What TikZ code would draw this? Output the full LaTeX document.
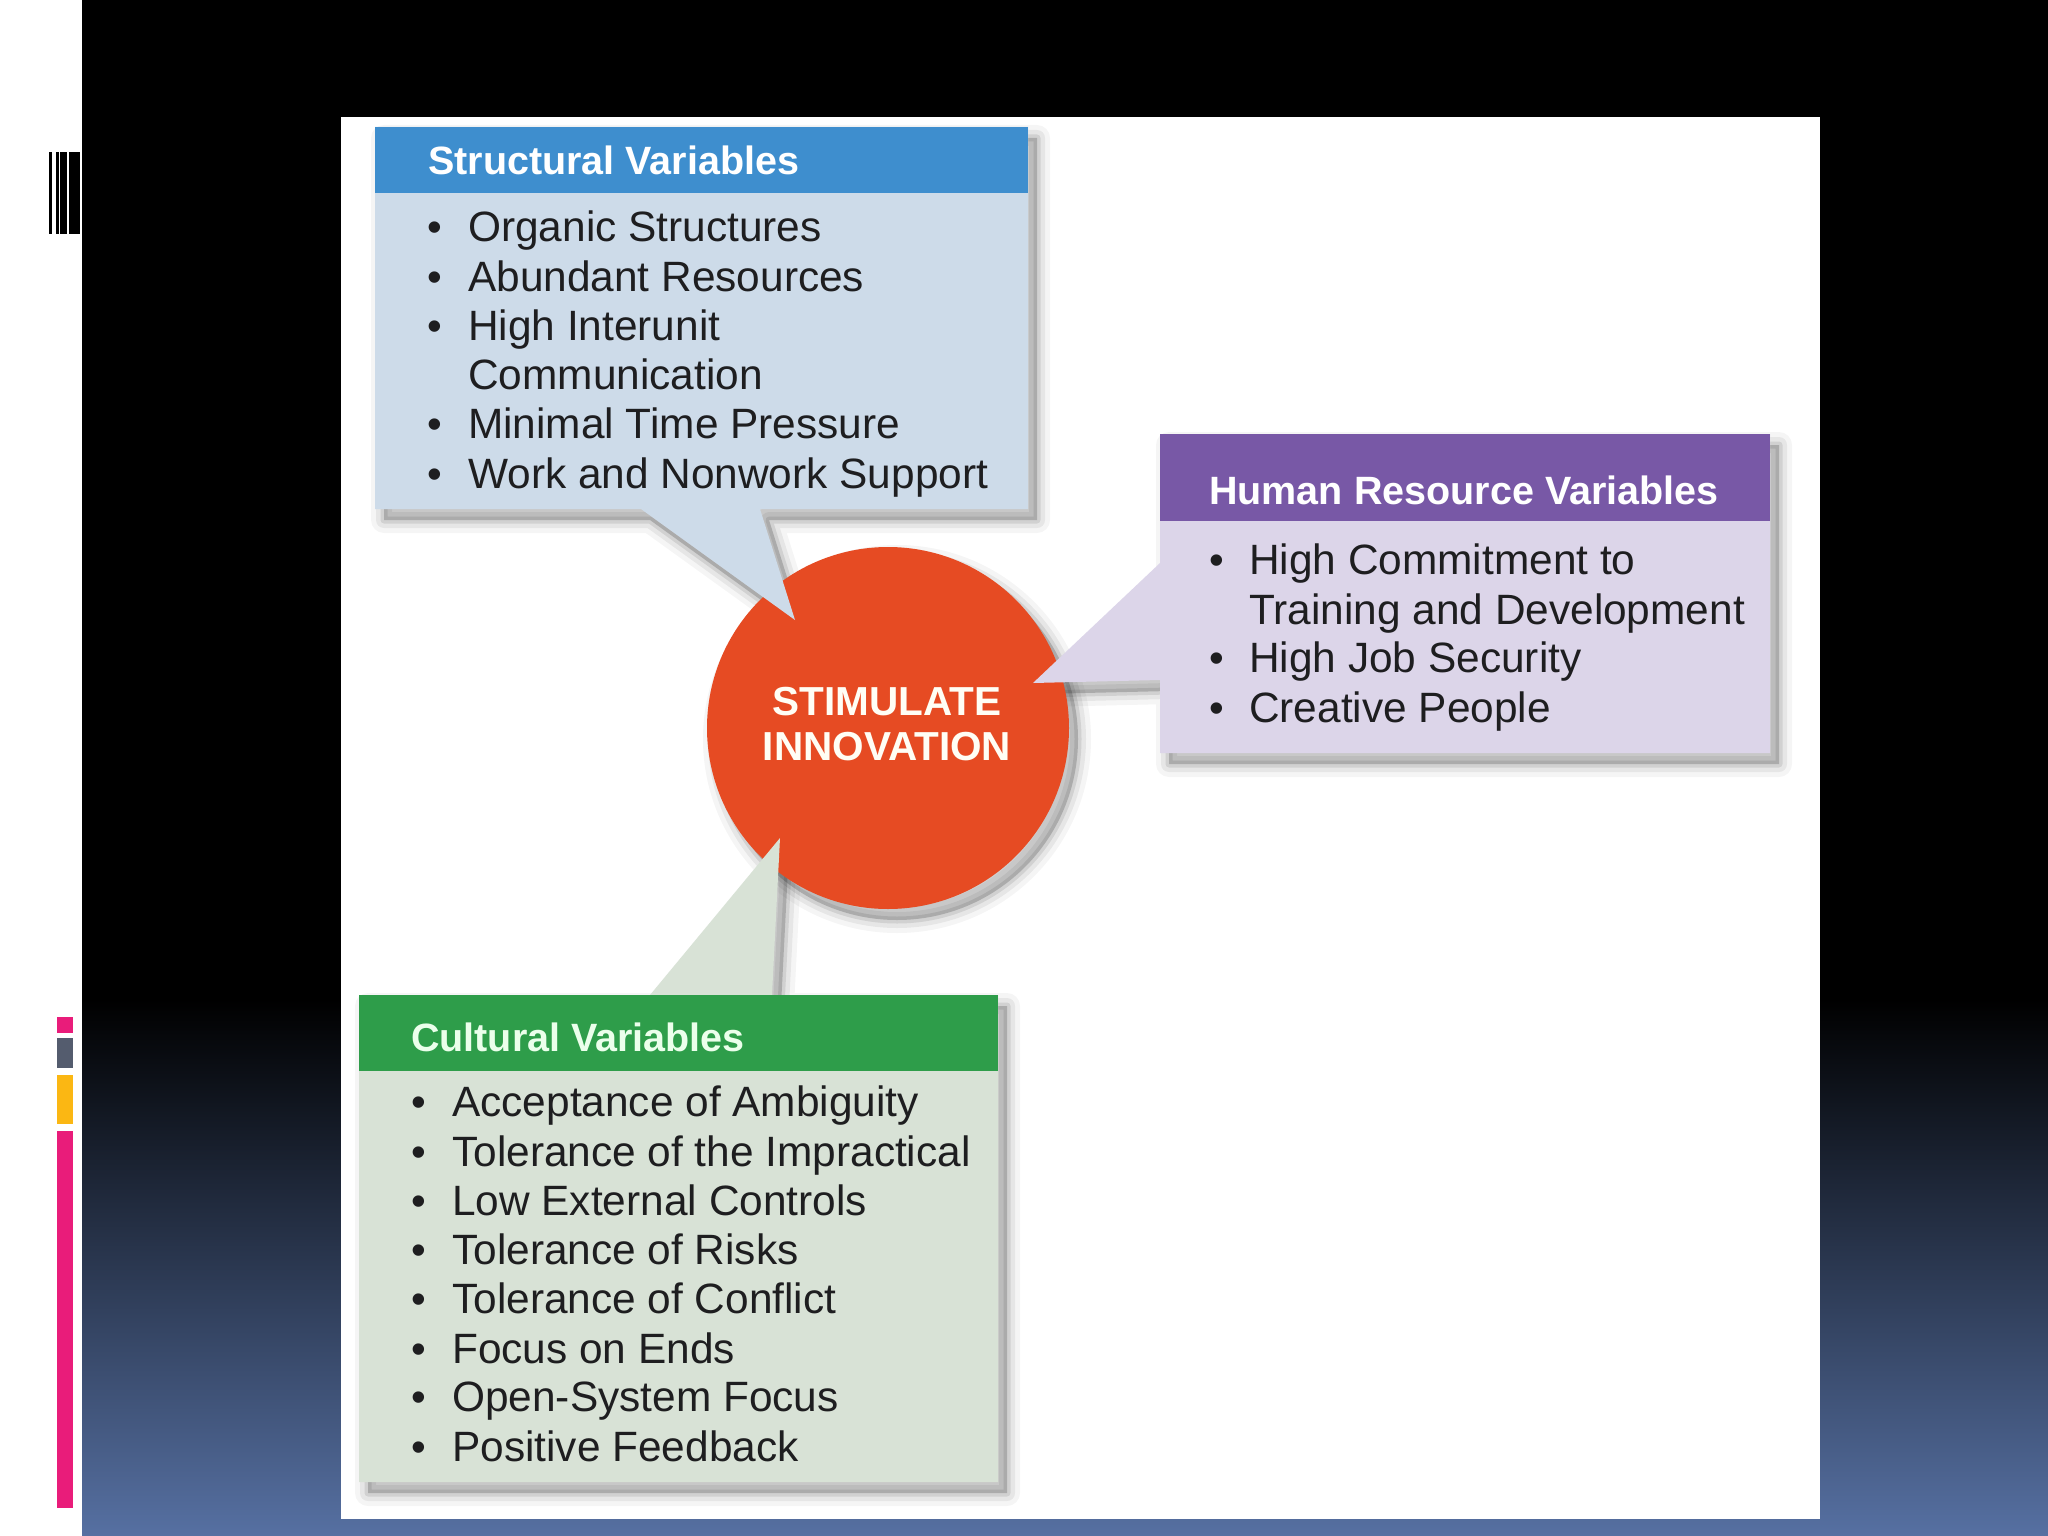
\documentclass[tikz,border=0pt]{standalone}
\usepackage{fontspec}
\setmainfont{Liberation Sans}
\usetikzlibrary{calc}
\definecolor{bgblue}{RGB}{86,112,162}
\definecolor{strhead}{RGB}{62,142,206}
\definecolor{strbody}{RGB}{205,219,233}
\definecolor{hrhead}{RGB}{120,88,166}
\definecolor{hrbody}{RGB}{220,213,233}
\definecolor{cuhead}{RGB}{46,157,74}
\definecolor{cubody}{RGB}{216,226,214}
\definecolor{innov}{RGB}{230,75,35}
\definecolor{txt}{RGB}{30,30,32}
\definecolor{barpink}{RGB}{233,28,122}
\definecolor{bargray}{RGB}{84,92,110}
\definecolor{baryellow}{RGB}{251,183,19}
\tikzset{
  bodytext/.style={anchor=base west, inner sep=0pt, font=\fontsize{42.4}{50}\selectfont, text=txt},
  bullettext/.style={anchor=base, inner sep=0pt, font=\fontsize{42}{50}\selectfont, text=txt},
  titletext/.style={anchor=base west, inner sep=0pt, font=\fontsize{39.5}{46}\selectfont\bfseries, text=white},
  centertext/.style={anchor=base, inner sep=0pt, font=\fontsize{40.5}{46}\selectfont\bfseries, text=white!96!yellow},
}
\newcommand\softshade[1]{%
  \draw[black, draw opacity=0.04, line width=26pt, line join=round, shift={(9,11)}] #1;
  \draw[black, draw opacity=0.06, line width=16pt, line join=round, shift={(9,11)}] #1;
  \draw[black, draw opacity=0.09, line width=7pt, line join=round, shift={(9,11)}] #1;
  \fill[black, fill opacity=0.18, shift={(9,11)}] #1;
}
\begin{document}
\begin{tikzpicture}[x=1pt,y=-1pt]
\useasboundingbox (0,0) rectangle (2048,1536);
% backgrounds
\fill[white] (0,0) rectangle (82,1536);
\fill[black] (82,0) rectangle (2048,1000);
\shade[top color=black, bottom color=bgblue] (82,999) rectangle (2048,1536);
% left strip decorations
\fill[black] (49.3,152) rectangle (52,234);
\fill[black] (55.7,152) rectangle (58.7,234);
\fill[black] (60,152) rectangle (66.7,234);
\fill[black] (69,152) rectangle (80,234);
\fill[barpink] (57,1017) rectangle (73,1033);
\fill[bargray] (57,1038) rectangle (73,1068);
\fill[baryellow] (57,1075) rectangle (73,1124);
\fill[barpink] (57,1131) rectangle (73,1508);
% white panel
\fill[white] (341,117) rectangle (1820,1519);

% shapes
\coordinate (c0) at (888,728);
\softshade{(888,728) circle[radius=181]}
\softshade{(375,127) -- (1028,127) -- (1028,509) -- (760,509) -- (795,620) -- (641,509) -- (375,509) -- cycle}
\softshade{(1160,434) -- (1770,434) -- (1770,753) -- (1160,753) -- (1160,680) -- (1033,683) -- (1160,563) -- cycle}
\softshade{(359,995) -- (650,995) -- (780,838) -- (772,995) -- (998,995) -- (998,1482) -- (359,1482) -- cycle}

\fill[innov] (c0) circle[radius=181];

% structural callout
\fill[strbody] (375,127) -- (1028,127) -- (1028,509) -- (760,509) -- (795,620) -- (641,509) -- (375,509) -- cycle;
\fill[strhead] (375,127) rectangle (1028,193);
% human resource callout
\fill[hrbody] (1160,434) -- (1770,434) -- (1770,753) -- (1160,753) -- (1160,680) -- (1033,683) -- (1160,563) -- cycle;
\fill[hrhead] (1160,434) rectangle (1770,521);
% cultural callout
\fill[cubody] (359,995) -- (650,995) -- (780,838) -- (772,995) -- (998,995) -- (998,1482) -- (359,1482) -- cycle;
\fill[cuhead] (359,995) rectangle (998,1071);

% centre text
\node[centertext] (stim) at (887,715) {STIMULATE};
\node[centertext] (inno) at (887,760) {INNOVATION};

% titles
\node[titletext] (strtitle) at (428,175) {Structural Variables};
\node[titletext] (hrtitle) at (1209,504) {Human Resource Variables};
\node[titletext, text=white!92!green] (cutitle) at (411,1051) {Cultural Variables};

% structural list
\foreach \yy/\t/\b [count=\i] in {241/Organic Structures/1, 291/Abundant Resources/1, 340/High Interunit/1, 389/Communication/0, 438/Minimal Time Pressure/1, 488/Work and Nonwork Support/1}{
  \node[bodytext] (s\i) at (468,\yy) {\t};
  \ifnum\b=1 \node[bullettext] (sb\i) at (435,\yy) {•};\fi
}
% human resource list
\foreach \yy/\t/\b [count=\i] in {574/High Commitment to/1, 624/Training and Development/0, 672/High Job Security/1, 722/Creative People/1}{
  \node[bodytext] (h\i) at (1249,\yy) {\t};
  \ifnum\b=1 \node[bullettext] (hb\i) at (1217,\yy) {•};\fi
}
% cultural list
\foreach \yy/\t [count=\i] in {1116/Acceptance of Ambiguity, 1166/Tolerance of the Impractical, 1215/Low External Controls, 1264/Tolerance of Risks, 1313/Tolerance of Conflict, 1363/Focus on Ends, 1411/Open-System Focus, 1461/Positive Feedback}{
  \node[bodytext] (k\i) at (452,\yy) {\t};
  \node[bullettext] (kb\i) at (419,\yy) {•};
}
\end{tikzpicture}
\end{document}
